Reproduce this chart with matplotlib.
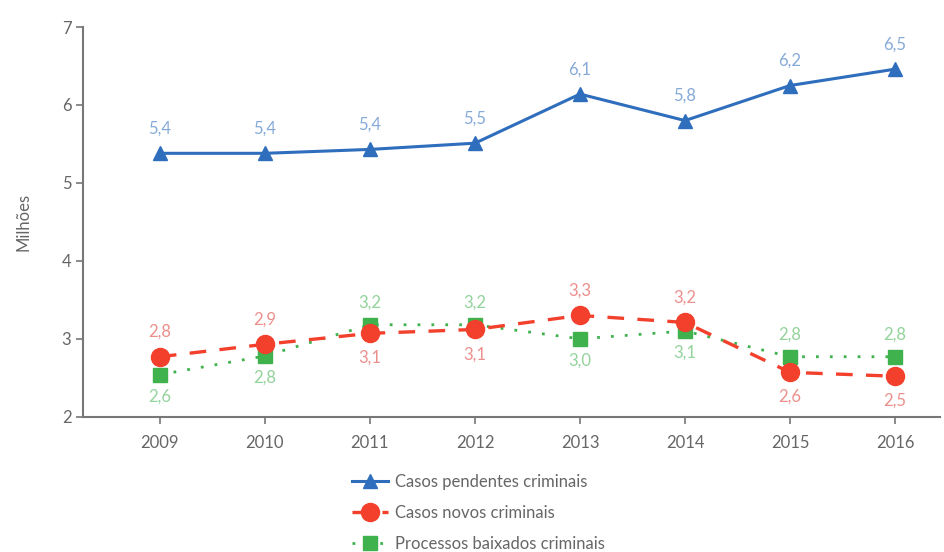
import matplotlib.pyplot as plt

plt.rcParams['font.family'] = ['Lato', 'DejaVu Sans']

anos = [2009, 2010, 2011, 2012, 2013, 2014, 2015, 2016]
pendentes = [5.38, 5.38, 5.43, 5.51, 6.14, 5.80, 6.25, 6.46]
novos = [2.77, 2.93, 3.07, 3.12, 3.30, 3.21, 2.57, 2.52]
baixados = [2.54, 2.78, 3.18, 3.18, 3.00, 3.10, 2.77, 2.77]
rot_pendentes = ['5,4', '5,4', '5,4', '5,5', '6,1', '5,8', '6,2', '6,5']
rot_novos = ['2,8', '2,9', '3,1', '3,1', '3,3', '3,2', '2,6', '2,5']
rot_baixados = ['2,6', '2,8', '3,2', '3,2', '3,0', '3,1', '2,8', '2,8']
novos_acima = [True, True, False, False, True, True, False, False]

azul, azul_txt = '#2f6dbd', '#86aad8'
verm, verm_txt = '#f2402c', '#ec8f8c'
verde, verde_txt = '#3fb24d', '#93d39c'
cinza = '#777777'

fig = plt.figure(figsize=(9.45, 5.52), dpi=100)
ax = fig.add_axes([0.088, 0.245, 0.907, 0.706])

ax.plot(anos, pendentes, color=azul, lw=2.2, marker='^', ms=10,
        label='Casos pendentes criminais', zorder=3)
ax.plot(anos, novos, color=verm, lw=2.4, ls=(0, (5, 4)), marker='o', ms=13,
        label='Casos novos criminais', zorder=4)
ax.plot(anos, baixados, color=verde, lw=2, ls=(0, (1, 4)), marker='s', ms=10,
        label='Processos baixados criminais', zorder=3)

for x, y, t in zip(anos, pendentes, rot_pendentes):
    ax.annotate(t, (x, y), xytext=(0, 12), textcoords='offset points',
                ha='center', va='bottom', color=azul_txt, fontsize=12)
for x, y, t, up in zip(anos, novos, rot_novos, novos_acima):
    ax.annotate(t, (x, y), xytext=(0, 12 if up else -12), textcoords='offset points',
                ha='center', va='bottom' if up else 'top', color=verm_txt, fontsize=12)
for x, y, t, up in zip(anos, baixados, rot_baixados, novos_acima):
    ax.annotate(t, (x, y), xytext=(0, -10 if up else 10), textcoords='offset points',
                ha='center', va='top' if up else 'bottom', color=verde_txt, fontsize=12)

ax.set_xlim(2008.27, 2016.43)
ax.set_ylim(2, 7)
ax.set_xticks(anos)
ax.set_yticks([2, 3, 4, 5, 6, 7])
ax.tick_params(colors=cinza, labelcolor='#666666', labelsize=12, length=5, width=1.2)
ax.tick_params(axis='x', pad=8)
for s in ['top', 'right']:
    ax.spines[s].set_visible(False)
for s in ['left', 'bottom']:
    ax.spines[s].set_color(cinza)
    ax.spines[s].set_linewidth(1.5)
ax.set_ylabel('Milhões', color='#666666', fontsize=12, labelpad=22)

fig.legend(loc='upper left', bbox_to_anchor=(0.372, 0.142), frameon=False,
           fontsize=12, labelcolor='#666666', handlelength=2.2, handletextpad=0.4,
           labelspacing=0.9, borderaxespad=0, borderpad=0)

fig.savefig('out.png', dpi=100)
